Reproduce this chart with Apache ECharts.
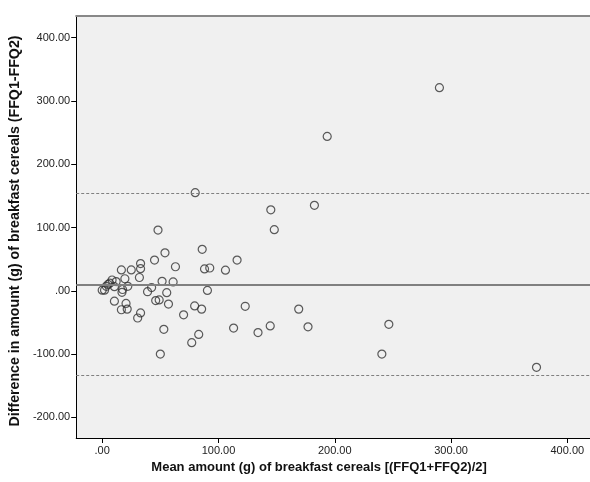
<!DOCTYPE html>
<html>
<head>
<meta charset="utf-8">
<script src="https://cdn.jsdelivr.net/npm/echarts@6/dist/echarts.min.js"></script>
<style>
html,body{margin:0;padding:0;background:#fff;}
#chart{width:590px;height:482px;}
</style>
</head>
<body>
<div id="chart"></div>
<script>
// Mean of the two FFQ measurements (x) and their difference (y)
var meanAmount = [0, 2, 3.5, 5, 6.5, 8.5, 10.5, 12, 17.5, 17, 22, 19.5, 16.5, 25, 33, 33, 32, 10.5, 20.5, 21.5, 16.5, 33, 30.5,
  45, 48, 54, 42.5, 39, 51.5, 61, 55.5, 46, 49, 57, 63, 53, 50, 70, 79.5, 85.5, 83, 77, 80, 86, 88, 92.5, 90.5, 106, 116,
  113, 123, 134, 145, 148, 144.5, 169, 177, 182.5, 193.5, 246.5, 240.5, 290, 373.5];
var diffAmount = [1, 1, 7, 10, 12, 17, 6.5, 14.5, 2, -2.5, 7, 19, 33, 33, 43, 35, 21, -16.5, -20, -29, -30, -35, -43,
  48.5, 96, 60, 5, -1.5, 15, 14, -3, -15.5, -14.5, -21, 38, -61, -100, -38, -24, -29, -69, -82, 155, 65.5, 34.5, 36, 0.5, 32.5, 48.5,
  -59, -24.5, -66, 128, 96.5, -55.5, -29, -57, 135, 244, -53, -100, 321, -121];
var meanDiff = 10;
var upperLimit = 154;
var lowerLimit = -134;
var xTickValues = [0, 100, 200, 300, 400];
var yTickValues = [-200, -100, 0, 100, 200, 300, 400];
var xTitle = 'Mean amount (g) of breakfast cereals [(FFQ1+FFQ2)/2]';
var yTitle = 'Difference in amount (g) of breakfast cereals (FFQ1-FFQ2)';

function fmt(v) {
  var s = Number(v).toFixed(2);
  if (s === '0.00') return '.00';
  return s;
}

var points = meanAmount.map(function (x, i) { return [x, diffAmount[i]]; });

var chart = echarts.init(document.getElementById('chart'), null, {renderer: 'canvas'});
var labelFont = {fontFamily: 'Liberation Sans, Arial, sans-serif', fontSize: 11, color: '#222'};

chart.setOption({
  animation: false,
  backgroundColor: '#ffffff',
  grid: {
    left: 76, top: 16, right: 0, bottom: 44,
    show: true, backgroundColor: '#f0f0f0',
    borderWidth: 0
  },
  xAxis: [{
    type: 'value', min: -22.35, max: 419.5,
    name: xTitle, nameLocation: 'middle', nameGap: 22,
    nameTextStyle: {fontFamily: 'Liberation Sans, Arial, sans-serif', fontSize: 13, fontWeight: 'bold', color: '#111', padding: [0, 28, 0, 0]},
    axisLine: {show: true, onZero: false, lineStyle: {color: '#000', width: 1}},
    axisTick: {show: true, customValues: xTickValues, length: 5, lineStyle: {color: '#000'}},
    axisLabel: Object.assign({customValues: xTickValues, formatter: fmt, margin: 7}, labelFont),
    splitLine: {show: false}
  }, {
    type: 'value', position: 'top', min: -22.35, max: 419.5,
    axisLine: {show: true, onZero: false, lineStyle: {color: '#888', width: 2}},
    axisTick: {show: false}, axisLabel: {show: false}, splitLine: {show: false}
  }],
  yAxis: {
    type: 'value', min: -232.7, max: 434.3,
    name: yTitle, nameLocation: 'middle', nameGap: 50,
    nameTextStyle: {fontFamily: 'Liberation Sans, Arial, sans-serif', fontSize: 14.2, fontWeight: 'bold', color: '#111', padding: [0, 8, 0, 0]},
    axisLine: {show: true, onZero: false, lineStyle: {color: '#000', width: 1}},
    axisTick: {show: true, customValues: yTickValues, length: 5, lineStyle: {color: '#000'}},
    axisLabel: Object.assign({customValues: yTickValues, formatter: fmt, margin: 6}, labelFont),
    splitLine: {show: false}
  },
  series: [{
    type: 'scatter',
    data: points,
    symbol: 'circle',
    symbolSize: 8,
    itemStyle: {color: 'rgba(0,0,0,0)', borderColor: '#333', borderWidth: 1.2},
    markLine: {
      silent: true,
      symbol: ['none', 'none'],
      label: {show: false},
      data: [
        {yAxis: meanDiff, lineStyle: {color: '#808080', width: 2, type: 'solid'}},
        {yAxis: upperLimit, lineStyle: {color: '#808080', width: 1, type: [3, 2]}},
        {yAxis: lowerLimit, lineStyle: {color: '#808080', width: 1, type: [3, 2]}}
      ]
    }
  }]
});
</script>
</body>
</html>
